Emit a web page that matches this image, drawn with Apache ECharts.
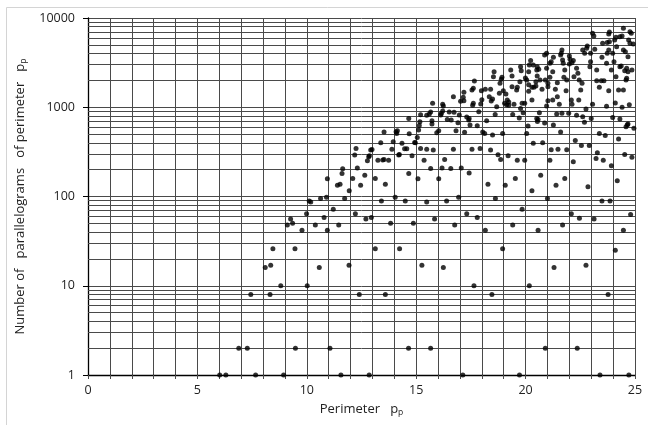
<!DOCTYPE html>
<html>
<head>
<meta charset="utf-8">
<script src="https://cdn.jsdelivr.net/npm/echarts@6/dist/echarts.min.js"></script>
<style>
html,body{margin:0;padding:0;background:#fff;}
#chart{width:648px;height:425px;}
</style>
</head>
<body>
<div id="chart"></div>
<script>
// Perimeter values (x) and matching counts (y)
const perimeter = [
  6.02, 6.30, 7.66, 8.94, 11.56, 12.85, 17.13, 19.72, 23.40, 24.72,
  6.89, 7.28, 9.48, 11.06, 14.65, 15.66, 20.90, 22.36,
  7.44, 8.32, 12.40, 13.59, 18.46, 23.77,
  8.81, 10.02, 17.64, 20.17,
  8.10, 10.57, 16.24, 21.30,
  8.35, 11.93, 15.26, 22.76,
  8.45, 9.46, 13.13, 14.24, 18.95, 24.10,
  9.78, 10.94, 18.16, 20.57, 24.47,
  9.11, 10.39, 11.46, 14.87, 16.76, 19.41, 21.69,
  9.35, 13.83,
  9.26, 12.70, 15.84, 22.46, 23.13,
  10.79, 12.95, 17.79,
  9.99, 12.22, 17.31, 22.09, 24.80,
  11.21, 19.84,
  10.11, 10.18, 13.41, 14.50, 15.48, 16.39, 23.49, 23.86,
  10.63, 10.90, 11.73, 14.04, 16.94, 18.62, 21.00,
  11.94, 20.29, 22.85,
  11.40, 11.52, 12.46, 13.59, 18.28, 19.07, 21.39,
  24.19,
  10.94, 12.10, 13.13, 15.08, 16.03, 19.53, 21.79,
  12.65, 20.69,
  11.61, 14.66, 17.42,
  11.64, 12.31, 15.66, 16.18, 16.58, 17.06,
  23.92, 22.18,
  12.77, 13.25, 13.47, 13.53, 13.74, 15.36, 16.30, 18.86, 19.62, 19.96, 21.11, 23.55,
  23.22, 24.86, 12.83,
  12.19, 12.86, 14.23, 14.81, 18.74, 19.20, 24.53, 14.20,
  23.28,
  12.25, 12.92, 12.98, 13.89, 14.47, 14.57, 15.20, 15.48, 15.78, 16.70, 17.55, 17.92, 18.40, 21.17, 21.48, 21.88,
  22.55, 22.91,
  13.38, 13.95, 14.35, 14.93, 14.96, 20.35, 20.78,
  22.27, 24.25, 15.05,
  18.49, 23.64,
  13.53, 14.08, 14.11, 14.14, 14.68, 15.94, 16.03, 16.82, 17.21, 18.04, 18.13, 18.95, 20.05, 21.60, 23.37,
  15.11, 24.95,
  15.14, 15.72, 17.46, 17.79, 20.11, 21.27, 24.59, 24.65, 24.68,
  15.17, 15.72, 16.91, 18.22, 20.54, 20.87, 22.69,
  16.42, 16.60, 17.31, 17.40, 17.42, 19.71, 20.51, 20.57, 23.00, 24.31, 23.98, 22.61, 14.66,
  15.20, 15.48, 15.60, 15.66, 16.12, 16.15, 16.21, 16.51, 16.73, 16.97, 17.86, 18.61, 19.41, 19.89, 20.63, 21.42, 21.66, 21.97, 22.33,
  18.68, 19.77, 20.96, 16.24, 22.76, 23.70, 24.41,
  15.75, 16.21, 17.58, 17.61, 17.95, 19.04, 19.13, 19.23, 19.47, 19.84, 19.96, 21.54, 22.12, 23.06, 24.10, 24.74,
  17.03, 17.18, 18.43, 20.29, 21.02, 22.09, 22.43, 18.00, 19.16, 19.23, 21.24,
  16.70, 17.15, 17.18, 17.55, 17.61, 17.66, 17.98, 18.16, 18.40, 18.34, 18.56, 18.53, 18.49, 18.80, 18.83, 18.89, 18.92, 18.98, 19.10,
  19.38, 19.38, 19.32, 19.59, 19.62, 19.74, 19.77, 19.80, 19.99, 20.05, 20.14, 20.14, 20.23, 20.17, 20.14, 20.35, 20.53, 20.51, 20.60,
  20.47, 20.47, 20.29, 20.38, 20.53, 20.66, 20.75, 20.87, 20.96, 20.90, 21.02, 21.02, 21.11, 20.96, 21.11, 21.17, 21.27, 21.24, 21.36,
  21.45, 21.45, 21.60, 21.63, 21.66, 21.69, 21.72, 21.79, 21.75, 21.88, 21.85, 22.00, 22.03, 22.00, 22.12, 22.18, 22.21, 22.33, 22.39,
  22.45, 22.52, 22.58, 22.61, 22.70, 22.79, 22.82, 22.97, 22.94, 22.97, 23.06, 23.12, 23.16, 23.25, 23.25, 23.37, 23.49, 23.52, 23.46,
  23.58, 23.73, 23.80, 23.83, 23.73, 23.80, 23.83, 23.70, 23.80, 23.92, 23.98, 24.04, 24.07, 24.13, 24.16, 24.13, 24.25, 24.31, 24.37,
  24.31, 24.41, 24.47, 24.47, 24.56, 24.53, 24.62, 24.59, 24.62, 24.71, 24.77, 24.77, 24.83, 24.68, 24.68, 24.86, 24.92, 24.47
];
const count = [
  1, 1, 1, 1, 1, 1, 1, 1, 1, 1,
  2, 2, 2, 2, 2, 2, 2, 2,
  8, 8, 8, 8, 8, 8,
  10, 10, 10, 10,
  16, 16, 16, 16,
  17, 17, 17, 17,
  26, 26, 26, 26, 26, 25,
  42, 42, 42, 42, 42,
  48, 48, 48, 50, 48, 48, 48,
  50, 50,
  56, 56, 56, 57, 56,
  58, 58, 58,
  64, 64, 64, 64, 63,
  72, 72,
  89, 87, 89, 89, 87, 89, 89, 89,
  95, 98, 95, 98, 98, 95, 95,
  116, 116, 129,
  134, 137, 134, 137, 137, 134, 134,
  150,
  158, 159, 159, 158, 158, 159, 159,
  173, 173,
  181, 181, 183,
  204, 209, 206, 209, 206, 209,
  221, 245,
  251, 254, 257, 260, 254, 254, 260, 260, 254, 254, 254, 254,
  267, 276, 278,
  291, 286, 295, 286, 293, 286, 296, 291,
  309,
  346, 331, 337, 339, 342, 342, 346, 339, 331, 339, 339, 346, 331, 333, 339, 333,
  373, 373,
  400, 410, 394, 404, 400, 394, 400,
  425, 440, 459,
  488, 484,
  527, 531, 509, 545, 504, 517, 545, 545, 523, 527, 509, 509, 509, 527, 509,
  555, 583,
  626, 648, 631, 620, 615, 631, 604, 637, 648,
  687, 705, 670, 705, 694, 665, 677,
  731, 718, 777, 718, 750, 757, 750, 731, 750, 738, 769, 783, 750,
  824, 811, 839, 883, 817, 853, 906, 883, 877, 817, 891, 832, 832, 868, 868, 839, 859, 859, 811,
  1013, 971, 1031, 1031, 954, 1023, 998,
  1106, 1078, 1050, 1106, 1086, 1106, 1067, 1050, 1077, 1106, 1106, 1078, 1078, 1078, 1114, 1067,
  1165, 1184, 1174, 1203, 1184, 1203, 1203, 1215, 1203, 1143, 1203,
  1312, 1291, 1470, 1560, 1630, 1968, 1531, 1588, 1588, 1312, 2500, 2198, 1235, 1431, 1855, 2056, 2167, 1531, 1406,
  1698, 2239, 2614, 1560, 1670, 1932, 2851, 2570, 2127, 2020, 1788, 1508, 3330, 2976, 2500, 2976, 2851, 2614, 2661,
  1932, 1729, 1670, 1670, 2239, 2020, 1588, 3854, 4027, 2020, 1855, 1698, 2167, 2735, 3112, 3243, 3630, 2500, 1588,
  1884, 1312, 3854, 4027, 4385, 3388, 3112, 2614, 2167, 2020, 1531, 3758, 3444, 3053, 3159, 3330, 2198, 2735, 2403,
  2020, 1560, 1855, 4385, 4027, 4585, 4865, 4027, 2851, 3243, 6750, 6295, 4467, 2614, 1983, 1670, 3630, 5212, 1983,
  1983, 4027, 4385, 5433, 5300, 6634, 6982, 3112, 1531, 2614, 4027, 3243, 5678, 6083, 4775, 2198, 1560, 2851, 2900,
  6183, 6295, 7690, 4385, 4198, 2570, 2735, 2020, 2109, 5678, 5212, 7034, 6750, 3690, 2500, 2614, 5117, 1560
];
const xTicks = [0, 5, 10, 15, 20, 25];
const yDecades = [1, 10, 100, 1000, 10000];
const yMinorLines = [2,3,4,5,6,7,8,9,20,30,40,50,60,70,80,90,200,300,400,500,600,700,800,900,2000,3000,4000,5000,6000,7000,8000,9000];

const pts = perimeter.map((x, i) => [x, count[i]]);
const gridColor = '#4a4a4a';
const chart = echarts.init(document.getElementById('chart'), null, {renderer: 'canvas'});
chart.setOption({
  animation: false,
  backgroundColor: '#ffffff',
  textStyle: {fontFamily: 'Open Sans'},
  graphic: [{
    type: 'rect', silent: true, z: -10,
    shape: {x: 6.5, y: 7.5, width: 800, height: 800},
    style: {fill: 'none', stroke: '#d4d4d4', lineWidth: 1}
  }],
  grid: {left: 88, right: 13, top: 18, bottom: 50, containLabel: false},
  xAxis: {
    type: 'value', min: xTicks[0], max: xTicks[xTicks.length - 1], interval: 5,
    name: '{a|Perimeter   p}{s|p}',
    nameLocation: 'middle', nameGap: 26,
    nameTextStyle: {
      rich: {
        a: {fontFamily: 'Open Sans', fontSize: 13, color: '#222'},
        s: {fontFamily: 'Open Sans', fontSize: 8.5, color: '#222', padding: [7, 0, 0, 0]}
      }
    },
    axisLine: {show: true, onZero: false, lineStyle: {color: '#000', width: 1.3}},
    axisTick: {show: true, inside: false, length: 4, lineStyle: {color: gridColor}},
    minorTick: {show: true, splitNumber: 5, length: 4, lineStyle: {color: gridColor}},
    axisLabel: {fontFamily: 'Open Sans', fontSize: 12.5, color: '#222', margin: 9,
      formatter: v => String(v)},
    splitLine: {show: true, lineStyle: {color: gridColor, width: 1}},
    minorSplitLine: {show: true, lineStyle: {color: gridColor, width: 1}}
  },
  yAxis: {
    type: 'log', logBase: 10, min: yDecades[0], max: yDecades[yDecades.length - 1],
    name: '{a|Number of   parallelograms   of perimeter   p}{s|p}',
    nameLocation: 'middle', nameRotate: 90, nameGap: 46,
    nameTextStyle: {
      rich: {
        a: {fontFamily: 'Open Sans', fontSize: 13, color: '#222'},
        s: {fontFamily: 'Open Sans', fontSize: 8.5, color: '#222', padding: [7, 0, 0, 0]}
      }
    },
    axisLine: {show: true, onZero: false, lineStyle: {color: '#000', width: 1.3}},
    axisTick: {show: true, inside: false, length: 5, lineStyle: {color: '#000'}},
    axisLabel: {fontFamily: 'Open Sans', fontSize: 12.5, color: '#222', margin: 13,
      formatter: v => String(Math.round(v))},
    splitLine: {show: true, lineStyle: {color: gridColor, width: 1}}
  },
  series: [{
    type: 'scatter',
    data: pts,
    symbol: 'circle',
    symbolSize: 5,
    itemStyle: {color: '#000'},
    silent: true,
    z: 5,
    markLine: {
      silent: true,
      symbol: ['none', 'none'],
      label: {show: false},
      lineStyle: {color: gridColor, width: 1, type: 'solid'},
      emphasis: {disabled: true},
      data: yMinorLines.map(v => ({yAxis: v}))
    }
  }]
});
</script>
</body>
</html>
